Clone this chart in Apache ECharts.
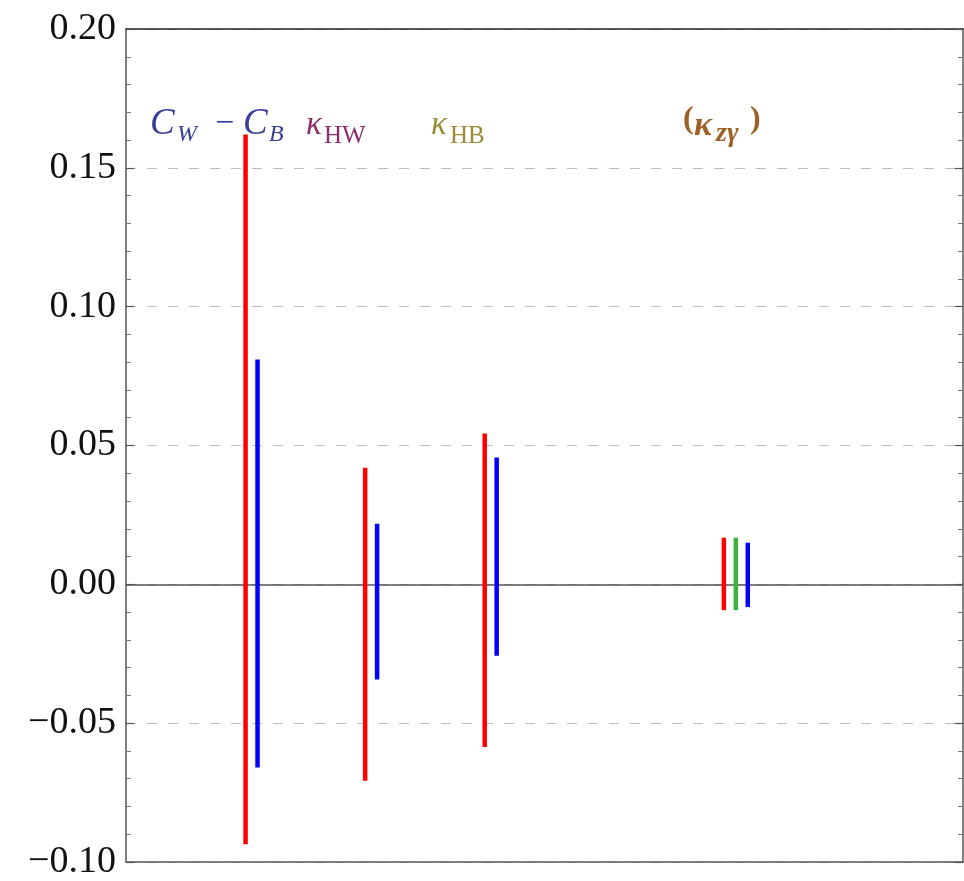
<!DOCTYPE html>
<html>
<head>
<meta charset="utf-8">
<script src="https://cdn.jsdelivr.net/npm/echarts@6/dist/echarts.min.js"></script>
<style>
  html, body { margin: 0; padding: 0; background: #ffffff; overflow: hidden; }
  #chart { width: 964px; height: 881px; }
</style>
</head>
<body>
<div id="chart"></div>
<script>
// Interval bounds for each coupling, grouped by operator
const groupNames = ['C_W − C_B', 'κ_HW', 'κ_HB', '(κ_zγ)'];

const redX    = [1.0, 2.0, 3.0, 5.0];
const redLow  = [-0.0936, -0.0707, -0.0586, -0.0093];
const redHigh = [0.1620, 0.0420, 0.0543, 0.0168];

const blueX    = [1.1, 2.1, 3.1, 5.2];
const blueLow  = [-0.0660, -0.0343, -0.0257, -0.0082];
const blueHigh = [0.0810, 0.0218, 0.0457, 0.0150];

const greenX    = [5.1];
const greenLow  = [-0.0093];
const greenHigh = [0.0168];

const yTickLabels = ['−0.10', '−0.05', '0.00', '0.05', '0.10', '0.15', '0.20'];

const chart = echarts.init(document.getElementById('chart'), null, {
  renderer: 'canvas', width: 964, height: 881
});

function intervalSeries(name, xs, lows, highs, color) {
  return {
    name: name,
    type: 'custom',
    xAxisIndex: 0,
    yAxisIndex: 0,
    silent: true,
    data: xs.map((x, i) => [x, lows[i], highs[i]]),
    encode: { x: 0, y: [1, 2] },
    renderItem: function (params, api) {
      const p0 = api.coord([api.value(0), api.value(1)]);
      const p1 = api.coord([api.value(0), api.value(2)]);
      return {
        type: 'line',
        shape: { x1: p0[0], y1: p0[1], x2: p1[0], y2: p1[1] },
        style: { stroke: color, lineWidth: 4.5, lineCap: 'butt' }
      };
    },
    z: 5
  };
}

// Label pieces: main symbol plus subscript, written in math style
const serif = '"Liberation Serif", "DejaVu Serif", serif';
function piece(text, x, y, size, color, italic, bold) {
  return {
    type: 'text',
    left: x,
    top: y,
    z: 10,
    style: {
      text: text,
      fill: color,
      font: (italic ? 'italic ' : '') + (bold ? 'bold ' : '') + size + 'px ' + serif,
      verticalAlign: 'middle',
      align: 'left'
    }
  };
}

const cNavy = '#3b3f98';
const cPurple = '#8c2d6c';
const cOlive = '#9a8c36';
const cBrown = '#9d6127';

const labelGraphics = [
  // C_W − C_B
  piece('C', 150, 106, 37, cNavy, true, false),
  piece('W', 177, 123, 24, cNavy, true, false),
  piece('−', 215, 107, 34, cNavy, false, false),
  piece('C', 243, 106, 37, cNavy, true, false),
  piece('B', 269, 123, 24, cNavy, true, false),
  // κ_HW
  piece('κ', 306, 109, 33, cPurple, true, false),
  piece('HW', 324, 124, 25, cPurple, false, false),
  // κ_HB
  piece('κ', 431, 109, 33, cOlive, true, false),
  piece('HB', 450, 124, 25, cOlive, false, false),
  // (κ_zγ)
  piece('(', 683, 104, 32, cBrown, false, true),
  piece('κ', 694, 109, 34, cBrown, true, true),
  piece('zγ', 716, 120, 28, cBrown, true, true),
  piece(')', 750, 104, 32, cBrown, false, true)
];

const axisGray = '#555555';

const option = {
  backgroundColor: '#ffffff',
  animation: false,
  grid: { left: 126, right: 1, top: 29, bottom: 13, containLabel: false },
  xAxis: [
    {
      type: 'value', min: 0, max: 7, position: 'bottom',
      axisLine: { show: true, onZero: false, lineStyle: { color: axisGray, width: 1.5 } },
      axisTick: { show: false }, axisLabel: { show: false }, splitLine: { show: false }
    },
    {
      type: 'value', min: 0, max: 7, position: 'top',
      axisLine: { show: true, onZero: false, lineStyle: { color: '#222222', width: 1.5 } },
      axisTick: { show: false }, axisLabel: { show: false }, splitLine: { show: false }
    }
  ],
  yAxis: [
    {
      type: 'value', min: -0.1, max: 0.2, interval: 0.05, position: 'left',
      axisLine: { show: true, onZero: false, lineStyle: { color: axisGray, width: 1.5 } },
      axisTick: { show: true, inside: true, length: 8, lineStyle: { color: axisGray, width: 1.2 } },
      minorTick: { show: true, splitNumber: 5, length: 5, lineStyle: { color: '#777777', width: 1 } },
      axisLabel: {
        show: true, margin: 10, color: '#111111', fontFamily: serif, fontSize: 38,
        formatter: function (v, i) { return yTickLabels[i]; }
      },
      splitLine: { show: true, lineStyle: { color: '#bdbdbd', width: 1, type: [10, 11] } }
    },
    {
      type: 'value', min: -0.1, max: 0.2, interval: 0.05, position: 'right',
      axisLine: { show: true, onZero: false, lineStyle: { color: axisGray, width: 1.5 } },
      axisTick: { show: true, inside: true, length: 8, lineStyle: { color: axisGray, width: 1.2 } },
      minorTick: { show: true, splitNumber: 5, length: 5, lineStyle: { color: '#777777', width: 1 } },
      axisLabel: { show: false },
      splitLine: { show: false }
    }
  ],
  series: [
    Object.assign(intervalSeries('red', redX, redLow, redHigh, '#ff0000'), {
      markLine: {
        silent: true, symbol: 'none', label: { show: false },
        lineStyle: { color: '#555555', width: 1.5, type: 'solid' },
        data: [{ yAxis: 0 }],
        z: 3
      }
    }),
    intervalSeries('green', greenX, greenLow, greenHigh, '#3cb33c'),
    intervalSeries('blue', blueX, blueLow, blueHigh, '#0000ff')
  ],
  graphic: labelGraphics
};

chart.setOption(option);
</script>
</body>
</html>
